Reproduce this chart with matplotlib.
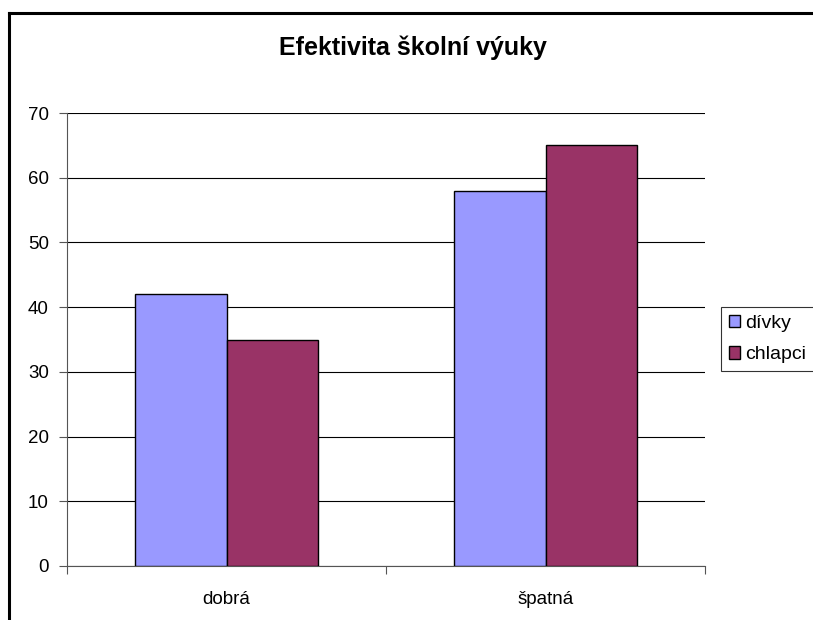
import matplotlib; matplotlib.use('Agg')
import matplotlib.pyplot as plt
import numpy as np

plt.rcParams['font.family'] = ['Liberation Sans', 'DejaVu Sans']

categories = ['dobrá', 'špatná']
divky = [42, 58]
chlapci = [35, 65]
series_names = ['dívky', 'chlapci']
yticks = [0, 10, 20, 30, 40, 50, 60, 70]

W, H = 813, 620
fig = plt.figure(figsize=(W / 100, H / 100), dpi=100)
fig.patch.set_facecolor('white')

# plot area in pixels: x 67..705, y 113..566
ax = fig.add_axes([67 / W, 1 - 566 / H, (705 - 67) / W, (566 - 113) / H])

x = np.arange(len(categories))
bw = 0.288
b1 = ax.bar(x - bw / 2, divky, bw, color='#9999FF', edgecolor='black', linewidth=1.0,
            label=series_names[0], zorder=3)
b2 = ax.bar(x + bw / 2, chlapci, bw, color='#993366', edgecolor='black', linewidth=1.0,
            label=series_names[1], zorder=3)

ax.set_xlim(-0.5, 1.5)
ax.set_ylim(0, 70)
ax.set_yticks(yticks)
ax.yaxis.grid(True, color='black', linewidth=0.8, zorder=0)
ax.set_axisbelow(True)
for s in ['top', 'right']:
    ax.spines[s].set_visible(False)
ax.spines['left'].set_color('#555555')
ax.spines['bottom'].set_color('#555555')

# category ticks at boundaries, labels centred
ax.set_xticks([-0.5, 0.5, 1.5])
ax.set_xticklabels([])
ax.set_xticks(x, minor=True)
ax.set_xticklabels(categories, minor=True)
ax.tick_params(axis='x', which='major', direction='out', length=6, color='#555555')
ax.tick_params(axis='x', which='minor', length=0, pad=18, labelsize=13.5)
ax.tick_params(axis='y', direction='out', length=6, color='#555555', labelsize=13.5, pad=7)

fig.text(413 / W, 1 - 48 / H, 'Efektivita školní výuky', ha='center', va='center',
         fontsize=18, fontweight='bold')

leg = fig.legend(handles=[b1, b2], labels=series_names, loc='upper left',
                 bbox_to_anchor=(721 / W, 1 - 307 / H), frameon=True, fancybox=False,
                 edgecolor='black', fontsize=14, handlelength=0.6, handleheight=0.6,
                 handletextpad=0.25, borderpad=0.4, labelspacing=0.75, borderaxespad=0)
leg.get_frame().set_linewidth(0.8)

# outer border (top and left visible)
fig.add_artist(plt.Line2D([9 / W, 1], [1 - 13 / H, 1 - 13 / H], color='black', linewidth=2.2,
                          transform=fig.transFigure))
fig.add_artist(plt.Line2D([9 / W, 9 / W], [0, 1 - 13 / H], color='black', linewidth=2.2,
                          transform=fig.transFigure))

fig.savefig('out.png', dpi=100, facecolor='white')
